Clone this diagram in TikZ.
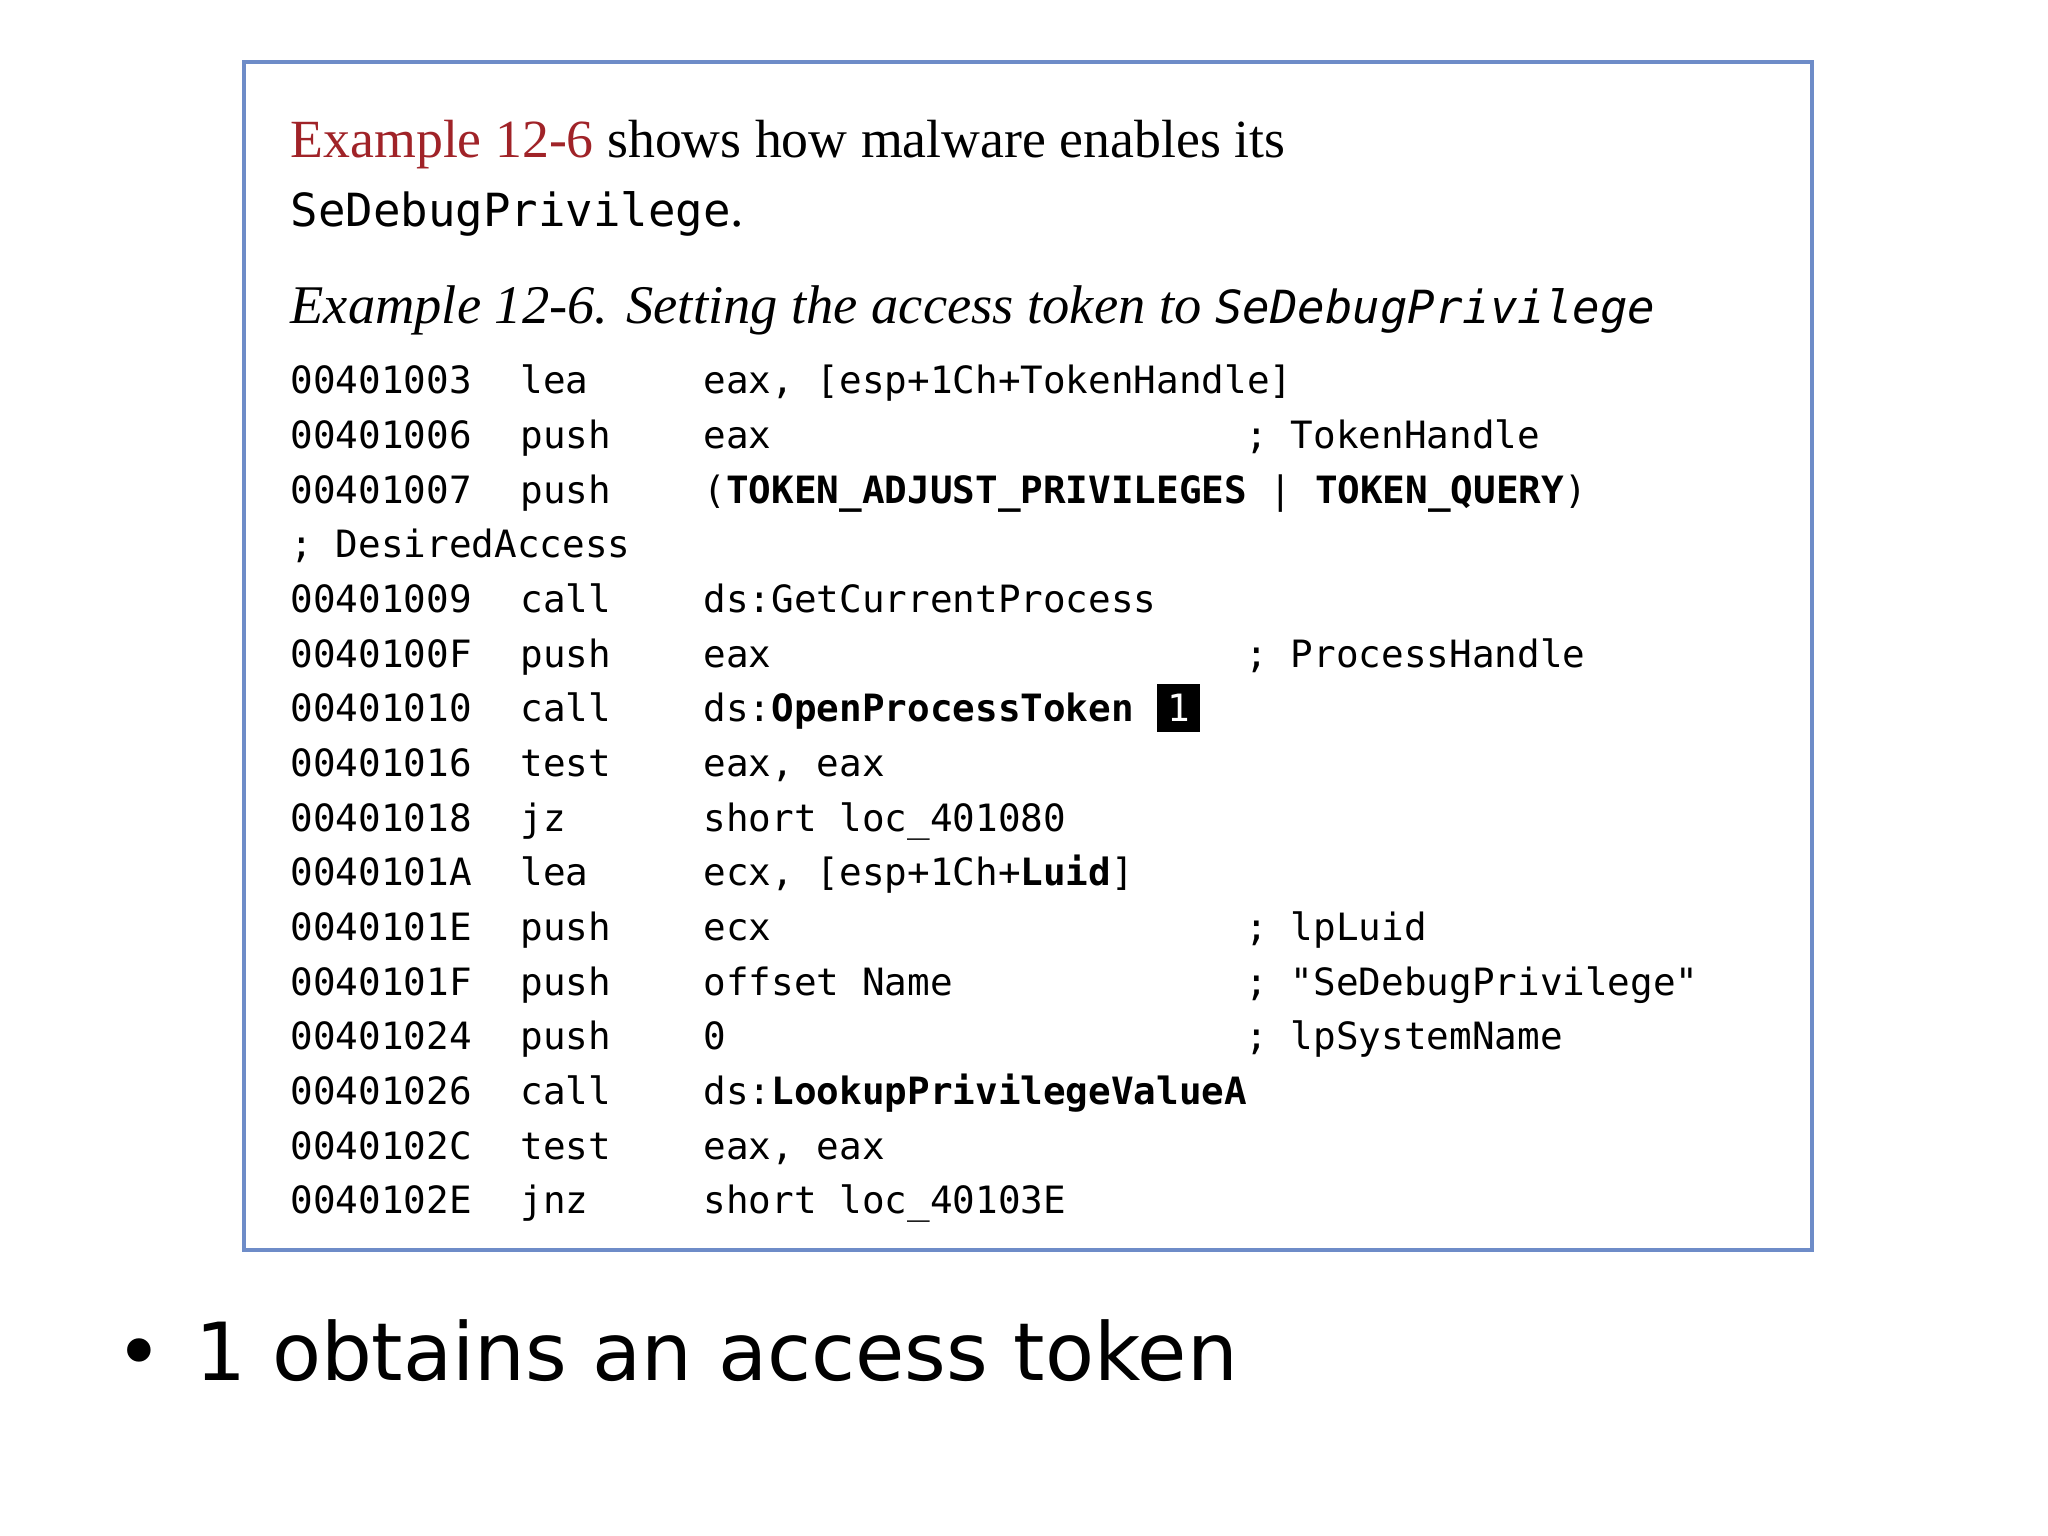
\documentclass[tikz,border=0pt]{standalone}
\usepackage{fontspec}
\setmainfont{Liberation Serif}
\setmonofont{DejaVu Sans Mono}
\newfontfamily\bulletfont{DejaVu Sans}
\definecolor{boxblue}{RGB}{110,140,200}
\definecolor{exred}{RGB}{160,35,40}
\begin{document}
\begin{tikzpicture}[x=1cm,y=1cm,
  code/.style={anchor=base west,inner sep=0,font=\ttfamily\fontsize{10.7}{12}\selectfont},
  prose/.style={anchor=base west,inner sep=0,font=\fontsize{15.3}{18}\selectfont}]
\useasboundingbox (0,0) rectangle (20.48,-15.36);
\draw[boxblue,line width=1pt] (2.44,-0.62) rectangle (18.12,-12.50);
\node[prose] (t1) at (2.90,-1.58) {\textcolor{exred}{Example 12-6} shows how malware enables its};
\node[prose,font=\ttfamily\fontsize{13}{15}\selectfont] (t2) at (2.90,-2.27) {SeDebugPrivilege{\rmfamily\fontsize{15.3}{18}\selectfont.}};
\node[prose,font=\itshape\fontsize{15.5}{18}\selectfont] (cap) at (2.90,-3.24) {Example 12-6. Setting the access token to {\ttfamily\fontsize{13}{15}\selectfont SeDebugPrivilege}};
\foreach \i/\a/\m/\o/\c in {
 0/00401003/lea/{eax, [esp+1Ch+TokenHandle]}/{},
 1/00401006/push/eax/{; TokenHandle},
 2/00401007/push/{(\textbf{TOKEN\_ADJUST\_PRIVILEGES} | \textbf{TOKEN\_QUERY})}/{},
 4/00401009/call/{ds:GetCurrentProcess}/{},
 5/0040100F/push/eax/{; ProcessHandle},
 6/00401010/call/{ds:\textbf{OpenProcessToken} \colorbox{black}{\textcolor{white}{1}}}/{},
 7/00401016/test/{eax, eax}/{},
 8/00401018/jz/{short loc\_401080}/{},
 9/0040101A/lea/{ecx, [esp+1Ch+\textbf{Luid}]}/{},
 10/0040101E/push/ecx/{; lpLuid},
 11/0040101F/push/{offset Name}/{; "SeDebugPrivilege"},
 12/00401024/push/0/{; lpSystemName},
 13/00401026/call/{ds:\textbf{LookupPrivilegeValueA}}/{},
 14/0040102C/test/{eax, eax}/{},
 15/0040102E/jnz/{short loc\_40103E}/{}}{
  \node[code] (a\i) at (2.90,{-3.94-0.5465*\i}) {\a};
  \node[code] (m\i) at (5.20,{-3.94-0.5465*\i}) {\m};
  \node[code] (o\i) at (7.03,{-3.94-0.5465*\i}) {\o};
  \node[code] (c\i) at (12.45,{-3.94-0.5465*\i}) {\c};
}
\node[code] (da) at (2.90,{-3.94-0.5465*3}) {; DesiredAccess};
\node[anchor=base west,inner sep=0,font=\bulletfont\fontsize{23}{28}\selectfont] (b) at (1.15,-13.80) {•};
\node[anchor=base west,inner sep=0,font=\bulletfont\fontsize{22.8}{28}\selectfont] (bt) at (1.95,-13.80) {1 obtains an access token};
\end{tikzpicture}
\end{document}
